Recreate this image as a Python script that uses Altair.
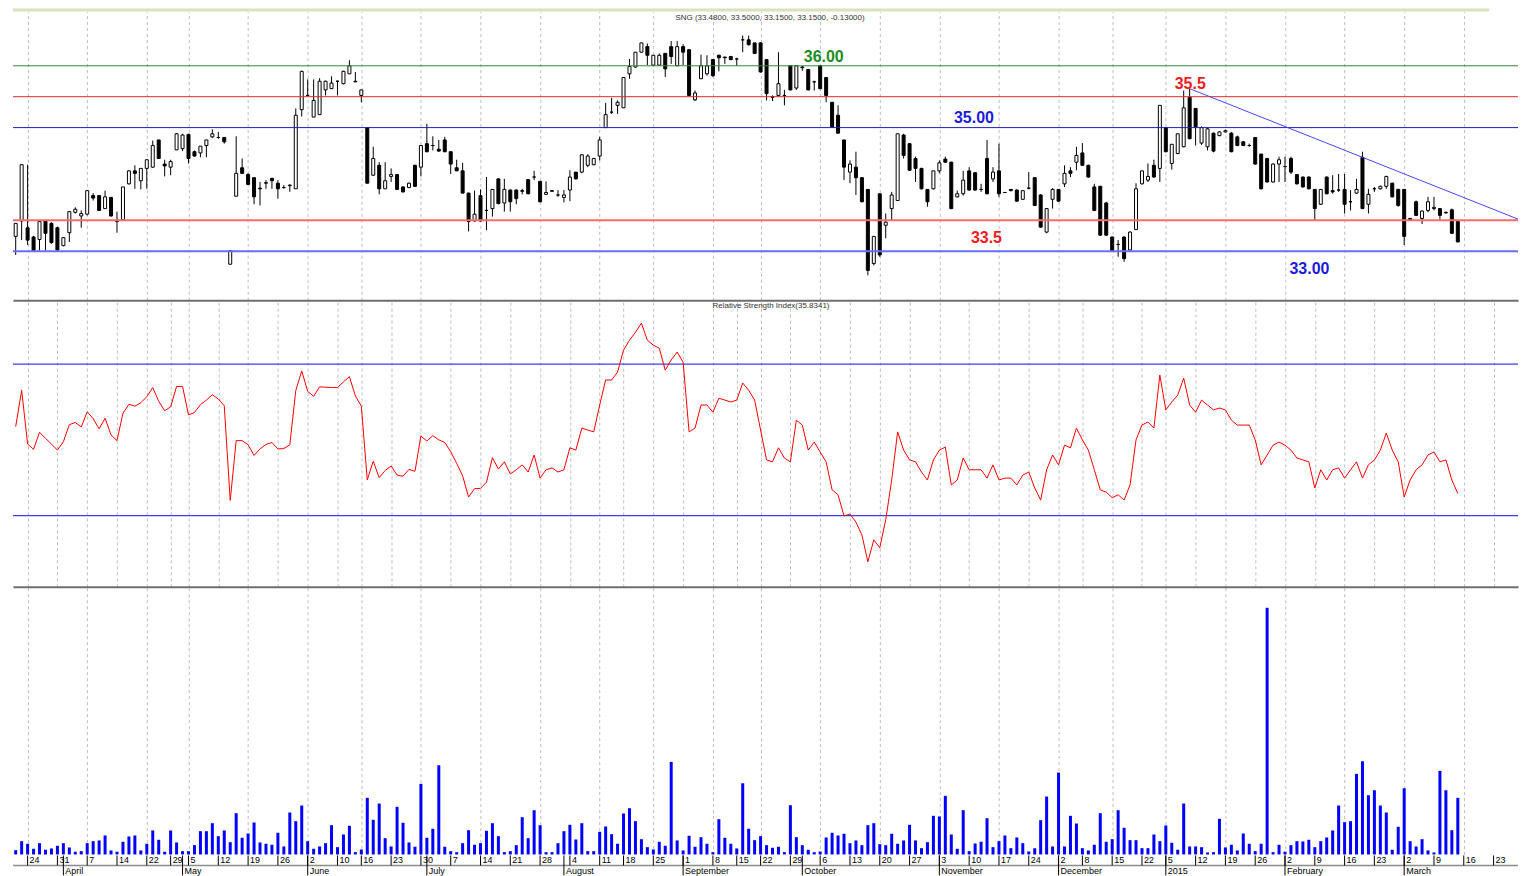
import altair as alt
import pandas as pd

# ---------------- price data (daily candles, SNG) ----------------
opens = [
    33.24, 33.49, 33.38, 33.23, 33.19, 33.49, 33.45, 33.38, 33.09, 33.30,
    33.63, 33.57, 33.60, 33.90, 33.90, 33.69, 33.87, 33.50, 33.51, 34.09,
    34.30, 34.14, 34.34, 34.36, 34.80, 34.41, 34.36, 34.64, 34.66, 34.89,
    34.61, 34.59, 34.71, 34.85, 34.84, 34.84, 32.79, 33.89, 34.35, 34.24,
    34.19, 34.02, 34.10, 34.18, 34.10, 34.03, 34.06, 34.01, 35.29, 35.52,
    35.17, 35.21, 35.61, 35.63, 35.75, 35.71, 35.87, 35.74, 35.52, 35.00,
    34.23, 34.39, 34.01, 34.21, 34.24, 34.04, 34.03, 34.39, 34.36, 34.74,
    34.71, 34.65, 34.80, 34.61, 34.35, 34.30, 33.94, 33.49, 33.90, 33.66,
    33.69, 34.17, 33.78, 33.99, 33.99, 33.98, 34.16, 34.20, 34.13, 33.92,
    33.98, 33.91, 33.87, 33.99, 34.28, 34.28, 34.39, 34.40, 34.54, 35.00,
    35.25, 35.36, 35.32, 35.87, 35.98, 36.22, 36.31, 36.01, 36.01, 36.20,
    36.31, 36.00, 36.31, 36.26, 35.45, 35.79, 35.87, 36.10, 36.17, 36.14,
    36.15, 36.11, 36.42, 36.42, 36.37, 36.37, 36.10, 35.50, 35.52, 35.52,
    36.00, 35.64, 35.98, 35.94, 35.74, 36.00, 35.81, 35.41, 35.20, 34.80,
    34.28, 34.36, 34.19, 34.00, 32.80, 33.93, 33.42, 33.69, 33.82, 34.88,
    34.74, 34.50, 34.34, 34.00, 34.01, 34.30, 34.49, 34.44, 33.88, 33.93,
    34.30, 34.27, 34.00, 34.50, 34.17, 34.30, 33.95, 34.00, 33.99, 33.84,
    34.02, 34.19, 33.91, 33.31, 33.84, 34.00, 34.09, 34.30, 34.44, 34.59,
    34.39, 34.04, 34.05, 33.78, 33.23, 33.11, 33.23, 33.02, 33.35, 34.09,
    34.15, 34.39, 34.34, 35.00, 34.42, 34.58, 34.69, 35.49, 35.31, 34.75,
    34.69, 34.91, 34.87, 34.93, 34.91, 34.85, 34.77, 34.71, 34.84, 34.57,
    34.50, 34.12, 34.41, 34.37, 34.50, 34.24, 34.20, 34.20, 34.00, 33.76,
    34.20, 33.98, 33.99, 34.00, 33.80, 33.94, 34.52, 33.76, 34.01, 34.01,
    34.05, 34.10, 34.00, 34.00, 33.53, 33.80, 33.53, 33.66, 33.69, 33.69,
    33.63, 33.67, 33.48,
]
highs = [
    33.45, 34.40, 34.40, 33.25, 33.48, 33.50, 33.47, 33.40, 33.23, 33.65,
    33.71, 33.66, 33.99, 33.94, 33.91, 33.98, 33.88, 33.64, 34.04, 34.31,
    34.39, 34.34, 34.48, 34.79, 34.80, 34.48, 34.48, 34.91, 34.90, 34.90,
    34.63, 34.70, 34.80, 34.97, 34.93, 34.85, 33.01, 34.86, 34.50, 34.26,
    34.19, 34.12, 34.15, 34.18, 34.15, 34.07, 34.08, 35.31, 35.92, 35.78,
    35.78, 35.80, 35.76, 35.83, 35.76, 35.92, 36.09, 35.90, 35.61, 35.00,
    34.69, 34.44, 34.44, 34.34, 34.25, 34.05, 34.11, 34.40, 34.71, 35.06,
    34.86, 34.80, 34.85, 34.61, 34.48, 34.43, 33.95, 33.98, 34.00, 34.20,
    34.00, 34.18, 34.17, 34.00, 34.00, 34.01, 34.17, 34.30, 34.14, 34.13,
    33.98, 33.99, 33.99, 34.31, 34.28, 34.57, 34.57, 34.51, 34.85, 35.40,
    35.48, 35.44, 35.81, 36.11, 36.22, 36.37, 36.36, 36.17, 36.20, 36.20,
    36.40, 36.40, 36.35, 36.27, 35.60, 36.18, 36.17, 36.11, 36.18, 36.15,
    36.16, 36.13, 36.49, 36.49, 36.37, 36.38, 36.10, 35.52, 36.22, 35.61,
    36.00, 36.00, 36.00, 35.95, 35.76, 36.00, 35.82, 35.41, 35.36, 34.80,
    34.47, 34.61, 34.20, 34.00, 33.24, 33.93, 33.61, 33.96, 34.90, 34.90,
    34.75, 34.53, 34.35, 34.00, 34.30, 34.47, 34.53, 34.45, 33.98, 34.30,
    34.36, 34.28, 34.09, 34.80, 34.36, 34.74, 33.96, 34.00, 34.00, 33.98,
    34.28, 34.20, 33.92, 33.69, 34.02, 34.00, 34.39, 34.36, 34.69, 34.75,
    34.40, 34.09, 34.06, 33.80, 33.24, 33.18, 33.24, 33.32, 34.10, 34.30,
    34.42, 34.48, 35.36, 35.00, 34.73, 34.90, 35.60, 35.63, 35.31, 35.02,
    35.00, 34.92, 34.94, 34.97, 34.93, 34.87, 34.78, 34.74, 34.84, 34.58,
    34.51, 34.42, 34.53, 34.53, 34.53, 34.25, 34.21, 34.21, 34.00, 34.00,
    34.21, 34.23, 34.25, 34.25, 33.99, 34.17, 34.61, 34.01, 34.04, 34.06,
    34.22, 34.11, 34.01, 34.00, 33.54, 33.82, 33.66, 33.88, 33.88, 33.70,
    33.64, 33.69, 33.50,
]
lows = [
    32.94, 33.18, 33.10, 33.00, 33.01, 33.01, 33.12, 33.00, 33.08, 33.15,
    33.61, 33.38, 33.58, 33.82, 33.65, 33.69, 33.56, 33.30, 33.51, 34.08,
    34.01, 34.00, 34.01, 34.35, 34.50, 34.21, 34.23, 34.64, 34.62, 34.42,
    34.53, 34.52, 34.52, 34.83, 34.82, 34.74, 32.78, 33.89, 34.25, 34.07,
    33.76, 33.74, 34.01, 34.01, 33.85, 34.01, 33.96, 34.01, 35.18, 35.52,
    35.17, 35.21, 35.52, 35.63, 35.52, 35.70, 35.87, 35.74, 35.41, 34.10,
    34.22, 33.92, 34.01, 34.12, 33.99, 33.95, 34.02, 34.04, 34.21, 34.60,
    34.63, 34.61, 34.60, 34.25, 34.30, 33.94, 33.32, 33.48, 33.48, 33.34,
    33.56, 33.76, 33.64, 33.64, 33.76, 33.92, 33.92, 34.15, 33.79, 33.92,
    33.97, 33.88, 33.79, 33.81, 34.16, 34.26, 34.36, 34.39, 34.47, 35.00,
    35.22, 35.22, 35.32, 35.79, 35.97, 36.21, 36.01, 36.00, 36.00, 35.82,
    36.03, 36.00, 36.01, 35.52, 35.43, 35.79, 35.84, 35.82, 35.91, 36.03,
    36.09, 36.00, 36.22, 36.33, 36.19, 35.89, 35.44, 35.43, 35.50, 35.36,
    35.60, 35.61, 35.92, 35.60, 35.60, 35.62, 35.41, 35.00, 34.90, 34.15,
    34.10, 33.91, 33.79, 32.61, 32.77, 32.91, 33.21, 33.50, 33.82, 34.50,
    34.30, 34.12, 34.00, 33.72, 34.00, 34.26, 34.43, 33.68, 33.87, 33.90,
    33.98, 33.98, 33.96, 33.92, 34.12, 33.88, 33.94, 33.97, 33.80, 33.83,
    34.00, 33.73, 33.38, 33.29, 33.69, 33.80, 34.04, 34.20, 34.31, 34.38,
    34.19, 33.65, 33.25, 33.25, 33.00, 32.91, 32.83, 33.01, 33.35, 34.08,
    34.12, 34.19, 34.12, 34.60, 34.32, 34.57, 34.68, 34.81, 34.71, 34.72,
    34.63, 34.60, 34.86, 34.92, 34.60, 34.70, 34.70, 34.69, 34.40, 34.00,
    34.11, 34.11, 34.12, 34.12, 34.25, 34.08, 34.03, 34.00, 33.50, 33.75,
    33.92, 33.93, 33.96, 33.61, 33.66, 33.93, 33.68, 33.61, 33.96, 34.00,
    34.01, 33.87, 33.72, 33.10, 33.49, 33.57, 33.44, 33.63, 33.66, 33.50,
    33.61, 33.28, 33.15,
]
closes = [
    33.45, 34.40, 33.18, 33.01, 33.48, 33.29, 33.14, 33.02, 33.22, 33.64,
    33.68, 33.61, 33.98, 33.86, 33.66, 33.88, 33.57, 33.48, 34.04, 34.30,
    34.26, 34.34, 34.48, 34.71, 34.50, 34.38, 34.45, 34.90, 34.88, 34.50,
    34.54, 34.70, 34.80, 34.90, 34.84, 34.77, 33.01, 34.26, 34.26, 34.08,
    33.88, 34.01, 34.11, 34.14, 34.01, 34.03, 34.07, 35.20, 35.91, 35.52,
    35.44, 35.75, 35.75, 35.72, 35.75, 35.91, 36.00, 35.75, 35.61, 34.10,
    34.50, 34.01, 34.14, 34.24, 34.00, 33.96, 34.10, 34.05, 34.71, 34.61,
    34.71, 34.62, 34.61, 34.41, 34.30, 33.94, 33.48, 33.60, 33.49, 33.66,
    34.00, 33.77, 34.00, 33.80, 33.85, 33.97, 33.93, 34.20, 33.80, 33.95,
    33.97, 33.91, 33.91, 34.20, 34.17, 34.56, 34.54, 34.50, 34.80, 35.21,
    35.25, 35.41, 35.81, 35.99, 36.22, 36.37, 36.17, 36.17, 36.17, 35.95,
    36.15, 36.31, 36.22, 35.52, 35.56, 36.00, 36.00, 35.84, 36.13, 36.13,
    36.10, 36.11, 36.42, 36.34, 36.20, 35.90, 35.55, 35.49, 35.71, 35.52,
    35.61, 36.00, 35.97, 35.61, 35.74, 35.63, 35.52, 35.01, 34.91, 34.36,
    34.41, 34.19, 33.80, 32.69, 33.24, 32.94, 33.47, 33.91, 34.90, 34.55,
    34.31, 34.34, 34.01, 33.80, 34.30, 34.43, 34.44, 33.69, 33.93, 34.15,
    33.99, 33.99, 34.00, 33.93, 34.28, 33.93, 33.95, 33.98, 33.81, 33.98,
    34.02, 33.74, 33.39, 33.69, 34.00, 33.81, 34.26, 34.26, 34.55, 34.39,
    34.20, 33.66, 33.26, 33.26, 33.01, 33.11, 32.88, 33.31, 34.01, 34.30,
    34.21, 34.20, 35.36, 34.61, 34.73, 34.90, 35.32, 34.82, 35.01, 35.00,
    34.98, 34.62, 34.93, 34.95, 34.61, 34.71, 34.71, 34.71, 34.41, 34.01,
    34.12, 34.41, 34.48, 34.37, 34.28, 34.09, 34.04, 34.01, 33.69, 34.00,
    33.93, 33.96, 33.99, 33.76, 33.80, 34.00, 33.69, 33.92, 34.01, 34.05,
    34.21, 33.88, 33.74, 33.24, 33.50, 33.58, 33.65, 33.80, 33.71, 33.58,
    33.62, 33.29, 33.15,
]
# ---------------- volume (relative units) ----------------
volume = [
    4.3, 13.3, 10.7, 5.7, 11.3, 4.7, 6.0, 8.7, 11.3, 7.0,
    2.7, 3.3, 11.3, 13.3, 14.0, 19.0, 4.0, 2.7, 12.7, 18.0,
    19.0, 4.0, 10.7, 24.0, 14.7, 2.7, 24.0, 12.0, 3.3, 3.3,
    9.3, 23.3, 23.3, 31.3, 18.3, 24.0, 12.3, 41.3, 16.7, 21.0,
    32.0, 12.0, 10.7, 9.7, 21.7, 8.0, 42.0, 33.3, 49.0, 13.3,
    5.7, 8.0, 11.3, 29.3, 7.3, 20.0, 28.7, 2.3, 5.0, 56.7,
    34.7, 51.0, 16.3, 8.0, 47.7, 31.7, 12.0, 7.7, 70.7, 16.7,
    25.7, 89.3, 7.7, 3.3, 2.3, 11.3, 24.3, 9.7, 11.3, 23.7,
    31.3, 18.3, 2.3, 3.3, 9.3, 37.3, 16.3, 44.3, 29.3, 2.3,
    2.3, 11.3, 23.3, 29.7, 15.0, 31.3, 3.3, 3.3, 22.7, 28.0,
    20.3, 10.7, 41.0, 46.3, 33.3, 15.3, 7.3, 5.0, 12.7, 8.7,
    92.7, 14.0, 4.0, 18.7, 7.7, 17.3, 10.7, 2.3, 35.3, 16.7,
    10.7, 6.0, 71.3, 25.7, 14.3, 18.3, 9.3, 6.7, 7.7, 2.3,
    49.3, 17.3, 9.3, 4.7, 2.3, 3.0, 17.0, 21.7, 19.0, 20.7,
    11.3, 14.0, 9.3, 29.3, 31.3, 10.3, 9.3, 20.7, 10.7, 14.0,
    29.7, 14.0, 6.3, 12.3, 38.7, 38.0, 58.7, 20.0, 5.7, 44.3,
    3.3, 11.0, 12.7, 36.3, 7.3, 13.3, 19.0, 6.3, 17.0, 11.3,
    3.0, 6.3, 34.3, 58.0, 8.0, 82.0, 8.0, 38.7, 31.0, 6.3,
    4.0, 9.7, 41.3, 12.7, 15.3, 44.3, 26.7, 14.3, 14.3, 6.3,
    6.3, 20.0, 13.3, 29.0, 11.7, 4.7, 51.0, 8.0, 8.0, 7.3,
    2.0, 2.3, 35.7, 7.0, 9.7, 4.0, 21.0, 10.7, 3.3, 10.7,
    247.0, 2.3, 9.7, 2.7, 9.3, 13.3, 13.0, 14.7, 7.3, 13.3,
    17.0, 24.0, 49.0, 32.3, 33.3, 80.7, 93.3, 59.3, 64.3, 49.0,
    42.0, 4.7, 27.7, 66.3, 13.3, 8.0, 15.3, 4.0, 2.0, 83.7,
    64.3, 24.3, 56.7,
]
# ---------------- RSI ----------------
rsi = [
    53.5, 63.1, 48.9, 47.5, 52.0, 50.4, 48.9, 47.3, 49.5, 54.0,
    54.6, 53.4, 57.4, 55.6, 52.9, 55.7, 51.3, 49.8, 57.0, 59.4,
    58.9, 59.8, 61.4, 63.8, 60.2, 57.7, 58.7, 64.1, 64.1, 56.6,
    57.2, 59.3, 60.5, 61.9, 60.8, 59.0, 34.0, 49.8, 49.8, 48.7,
    45.9, 47.6, 48.8, 49.3, 47.6, 47.7, 48.7, 63.0, 68.2, 62.8,
    61.5, 64.0, 63.9, 63.8, 63.8, 65.3, 66.7, 61.6, 58.9, 39.4,
    44.4, 40.0, 41.9, 43.1, 40.7, 40.4, 42.2, 41.7, 51.0, 49.7,
    51.1, 50.0, 49.3, 46.9, 43.8, 40.5, 34.9, 37.1, 37.2, 38.8,
    45.3, 42.3,
    44.2, 41.0, 42.1, 43.4, 41.5, 46.0, 39.9, 42.1, 42.6, 41.5,
    42.1, 47.9, 47.3, 53.1, 52.6, 52.1, 59.2, 65.8, 65.8, 67.9,
    73.7, 76.3, 78.4, 80.8, 76.3, 75.0, 74.2, 68.4, 71.1, 73.2,
    70.5, 52.1, 53.1, 59.2, 59.2, 57.3, 61.0, 60.5, 60.0, 60.5,
    65.0, 63.1, 60.5, 52.6, 44.7, 44.2, 47.9, 45.2, 44.2, 55.2,
    53.9, 47.3, 49.4, 46.8, 44.2, 36.8, 35.5, 29.9, 30.4, 28.3,
    24.9, 17.8, 23.6, 21.5, 28.9, 39.4, 52.1, 47.3, 44.7, 44.2,
    41.5, 39.4, 44.7, 47.3, 48.1, 38.1, 39.4, 45.2, 42.1, 42.1,
    42.1, 39.9, 43.4, 39.4, 39.9, 39.9, 38.1, 40.7, 41.5, 37.3,
    34.1, 42.1, 46.0, 43.4, 48.6, 47.9, 53.1, 50.0, 47.3, 42.1,
    36.8, 36.2, 34.7, 35.5, 34.1, 38.1, 50.0, 53.9, 54.7, 53.1,
    67.1, 57.9, 60.0, 61.8, 66.3, 59.2, 57.3, 60.5, 59.2, 57.9,
    58.4, 57.9, 55.2, 53.9, 53.9, 53.9, 50.0, 43.4, 46.0, 48.6,
    49.4, 48.6, 47.3, 45.2, 44.7, 44.2, 37.3, 42.1, 39.4, 42.1,
    42.6, 39.9, 42.1, 44.2, 39.9, 43.4, 44.7, 47.3, 51.8, 47.3,
    44.2, 34.9, 39.4, 42.1, 43.4, 46.0, 46.8, 44.2, 44.7, 39.4,
    35.83,
]

# ---------------- axis labels (trading-day index positions) ----------------
week_idx = [2, 7, 12, 17, 22, 26, 29, 34, 39, 44, 49, 54, 58, 63, 68, 73, 78, 83,
            88, 93, 98, 102, 107, 112, 117, 121, 125, 130, 135, 140, 145, 150, 155,
            160, 165, 170, 175, 179, 184, 189, 193, 198, 203, 208, 213, 218, 223,
            228, 233, 238, 243, 248]
week_lab = ["24", "31", "7", "14", "22", "29", "5", "12", "19", "26", "2", "10", "16",
            "23", "30", "7", "14", "21", "28", "4", "11", "18", "25", "1", "8", "15",
            "22", "29", "6", "13", "20", "27", "3", "10", "17", "24", "2", "8", "15",
            "22", "5", "12", "19", "26", "2", "9", "16", "23", "2", "9", "16", "23"]
month_idx = [8, 28, 49, 69, 92, 112, 132, 155, 175, 193, 213, 233]
month_lab = ["April", "May", "June", "July", "August", "September", "October",
             "November", "December", "2015", "February", "March"]

# ---------------- drawn levels / annotations ----------------
levels = [36.0, 35.5, 35.0, 33.5, 33.0]
level_colors = ["#3b7f3b", "#e02828", "#1c1cc0", "#ff6b6b", "#6b6bff"]
level_widths = [1, 1, 1, 2, 2]
ann_text = ["36.00", "35.00", "35.5", "33.5", "33.00"]
ann_idx = [135.6, 160.8, 197.1, 162.9, 217.1]
ann_price = [36.15, 35.16, 35.70, 33.22, 32.72]
ann_color = ["#1e8c1e", "#1c1cd8", "#ee1c1c", "#ee1c1c", "#1c1cd8"]
trend_idx = [197.0, 253.4]
trend_price = [35.63, 33.47]
title_text = "SNG (33.4800, 33.5000, 33.1500, 33.1500, -0.13000)"
rsi_title = "Relative Strength Index(35.8341)"
rsi_levels = [70, 30]

# ---------------- layout ----------------
W = 1507
H_BAND, H_PRICE, H_RSI, H_VOL = 3, 289, 287, 268
FONT = "Liberation Sans"

df = pd.DataFrame({"i": list(range(len(closes))), "open": opens, "high": highs,
                   "low": lows, "close": closes, "vol": volume, "rsi": rsi})

xs = alt.Scale(domain=[-0.4525, 252.10], nice=False, zero=False, padding=0)
ps = alt.Scale(domain=[32.208, 36.877], nice=False, zero=False)
rs = alt.Scale(domain=[11.2, 86.876], nice=False, zero=False)
vs = alt.Scale(domain=[0, 268], nice=False, zero=True)


def grid_axis(domain):
    kw = dict(orient="top", values=week_idx, grid=True, gridColor="#bdbdbd",
              gridDash=[3, 3], gridWidth=1, labels=False, ticks=False,
              title=None, domain=domain)
    if domain:
        kw.update(domainColor="#6e6e6e", domainWidth=2)
    return alt.Axis(**kw)


one = pd.DataFrame({"a": [0]})

band = alt.Chart(one).mark_rect(color="#d6e3bb").encode(
    x=alt.value(0), x2=alt.value(1478), y=alt.value(0), y2=alt.value(H_BAND)
).properties(width=W, height=H_BAND)

# price panel
cd = alt.Chart(df)
wick = cd.mark_rule(color="black", strokeWidth=1).encode(
    x=alt.X("i:Q", scale=xs, axis=grid_axis(False)),
    y=alt.Y("low:Q", scale=ps, axis=None), y2="high:Q")
body = cd.mark_bar(size=3, stroke="black", strokeWidth=1, orient="vertical").encode(
    x=alt.X("i:Q", scale=xs),
    y=alt.Y("open:Q", scale=ps, axis=None), y2="close:Q",
    fill=alt.condition("datum.close >= datum.open", alt.value("white"), alt.value("black")))
lv = alt.Chart(pd.DataFrame({"p": levels, "c": level_colors, "w": level_widths})).mark_rule().encode(
    y=alt.Y("p:Q", scale=ps, axis=None),
    color=alt.Color("c:N", scale=None),
    strokeWidth=alt.StrokeWidth("w:Q", scale=None))
trend = alt.Chart(pd.DataFrame({"t": trend_idx, "p": trend_price})).mark_line(
    color="#4646ff", strokeWidth=1, clip=True).encode(
    x=alt.X("t:Q", scale=xs), y=alt.Y("p:Q", scale=ps, axis=None))
ann = alt.Chart(pd.DataFrame({"li": ann_idx, "lp": ann_price, "lt": ann_text, "lc": ann_color})).mark_text(
    font=FONT, fontSize=16, fontWeight="bold", align="center", baseline="middle").encode(
    x=alt.X("li:Q", scale=xs), y=alt.Y("lp:Q", scale=ps, axis=None),
    text="lt:N", color=alt.Color("lc:N", scale=None))
ttl = alt.Chart(pd.DataFrame({"t": [title_text]})).mark_text(
    font=FONT, fontSize=8, color="#333333", align="center", baseline="middle").encode(
    x=alt.value(758), y=alt.value(6), text="t:N")
price = alt.layer(wick, body, lv, trend, ann, ttl).properties(width=W, height=H_PRICE)

# RSI panel
rline = alt.Chart(df).mark_line(color="#ff0000", strokeWidth=1).encode(
    x=alt.X("i:Q", scale=xs, axis=grid_axis(True)),
    y=alt.Y("rsi:Q", scale=rs, axis=None))
rlev = alt.Chart(pd.DataFrame({"r": rsi_levels})).mark_rule(color="#3c3cff", strokeWidth=1.3).encode(
    y=alt.Y("r:Q", scale=rs, axis=None))
rttl = alt.Chart(pd.DataFrame({"t": [rsi_title]})).mark_text(
    font=FONT, fontSize=8, color="#333333", align="center", baseline="middle").encode(
    x=alt.value(759), y=alt.value(6), text="t:N")
rsi_panel = alt.layer(rlev, rline, rttl).properties(width=W, height=H_RSI)

# volume panel + date axis
vbar = alt.Chart(df).mark_bar(size=3, color="#0000ff", orient="vertical").encode(
    x=alt.X("i:Q", scale=xs, axis=grid_axis(True)),
    y=alt.Y("vol:Q", scale=vs, axis=None))
wdf = pd.DataFrame({"wi": week_idx, "wl": week_lab})
mdf = pd.DataFrame({"mi": month_idx, "ml": month_lab})
base_line = alt.Chart(one).mark_rule(color="#8c8c8c", strokeWidth=1.5).encode(
    x=alt.value(0), x2=alt.value(W), y=alt.value(H_VOL + 11))
wtick = alt.Chart(wdf).mark_rule(color="black", strokeWidth=1).encode(
    x=alt.X("wi:Q", scale=xs), y=alt.value(H_VOL + 1), y2=alt.value(H_VOL + 11))
wtext = alt.Chart(wdf).mark_text(font=FONT, fontSize=9, align="left", baseline="middle",
                                 dx=2, color="black").encode(
    x=alt.X("wi:Q", scale=xs), y=alt.value(H_VOL + 6), text="wl:N")
mtick = alt.Chart(mdf).mark_rule(color="black", strokeWidth=1).encode(
    x=alt.X("mi:Q", scale=xs), y=alt.value(H_VOL + 1), y2=alt.value(H_VOL + 21))
mtext = alt.Chart(mdf).mark_text(font=FONT, fontSize=9, align="left", baseline="middle",
                                 dx=2, color="black").encode(
    x=alt.X("mi:Q", scale=xs), y=alt.value(H_VOL + 16.5), text="ml:N")
vol_panel = alt.layer(vbar, base_line, wtick, wtext, mtick, mtext).properties(width=W, height=H_VOL)

chart = alt.vconcat(band, price, rsi_panel, vol_panel, spacing=0, bounds="flush").properties(
    padding={"left": 4, "top": 0, "right": 0, "bottom": 0}
).configure_view(stroke=None)

chart.save("out.html", embed_options={"renderer": "svg", "actions": False})
